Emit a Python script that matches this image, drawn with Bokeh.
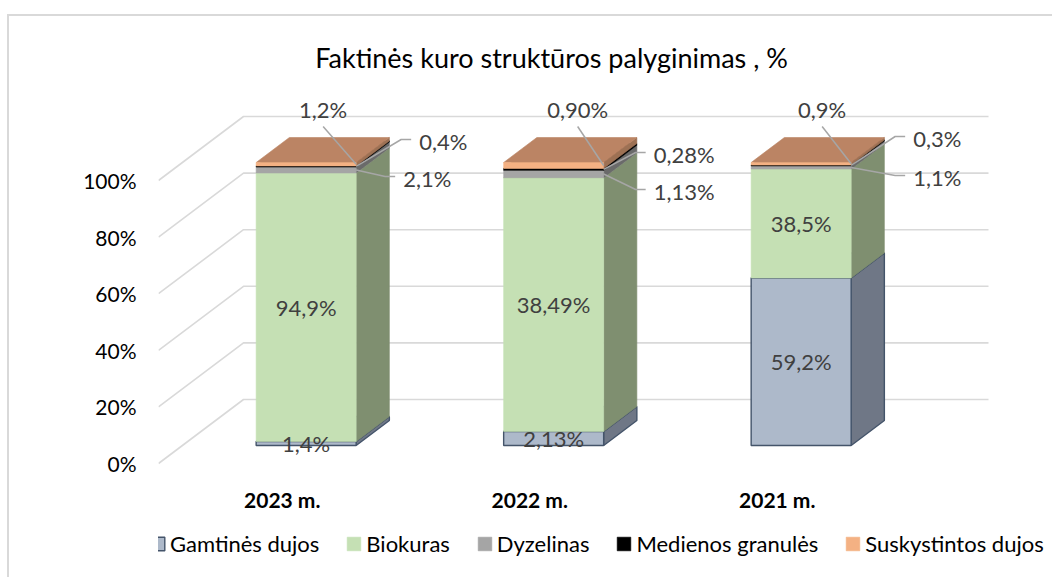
from bokeh.plotting import figure
from bokeh.models import Range1d, FixedTicker, Legend, LegendItem, ColumnDataSource, LinearAxis
from bokeh.core.properties import value
from bokeh.embed import file_html
from bokeh.resources import INLINE

# ---------------- data ----------------
title_text = "Faktinės kuro struktūros palyginimas , %"
categories = ["2023 m.", "2022 m.", "2021 m."]
series_names = ["Gamtinės dujos", "Biokuras", "Dyzelinas", "Medienos granulės", "Suskystintos dujos"]
gamtines_dujos = [1.4, 2.13, 59.2]
biokuras = [94.9, 38.49, 38.5]
dyzelinas = [2.1, 1.13, 1.1]
medienos_granules = [0.4, 0.28, 0.3]
suskystintos_dujos = [1.2, 0.90, 0.9]
label_decimals = [1, 2, 1]
y_ticks = [0, 20, 40, 60, 80, 100]

series_values = [gamtines_dujos, biokuras, dyzelinas, medienos_granules, suskystintos_dujos]

# ---------------- styles ----------------
front_colors = ["#ADB9CA", "#C5E0B4", "#A5A5A5", "#000000", "#F4B183"]
side_colors = ["#6F7786", "#7F8F70", "#6A6A6A", "#000000", "#9D7154"]
top_colors = ["#8E98A6", "#A2B894", "#888888", "#000000", "#BB8464"]
edge_colors = ["#44546A", None, None, None, None]
FONT = "Lato"
GRID_COLOR = "#D9D9D9"
LABEL_COLOR = "#404040"

# ---------------- 3D projection (layout) ----------------
PX = 2.83          # px per percent
Y0 = 463.0         # page y of 0% on front plane
def v_of(py):
    return (Y0 - py) / PX

FLOOR_L = 158.0
BAND = 247.5
BAR_W = 100.0
DX = 85.0
DYP = 64.0 / PX
D0 = 18.0 / 64
D1 = 43.0 / 64
BACK_R = 988.0

def proj(x, v, d):
    return x + d * DX, v + d * DYP

p = figure(width=1045, height=563, output_backend="svg", toolbar_location=None,
           x_range=Range1d(FLOOR_L, 1054), y_range=Range1d(v_of(579), v_of(16)),
           x_axis_type=None, y_axis_type=None,
           min_border_left=149, min_border_right=0, min_border_top=0, min_border_bottom=0)
p.outline_line_color = None
p.background_fill_color = "white"
p.border_fill_color = "white"
p.styles = {"margin-left": "7px", "margin-top": "14px",
            "border-left": "2px solid #D9D9D9", "border-top": "2px solid #D9D9D9"}

# y axis
yax = LinearAxis(ticker=FixedTicker(ticks=y_ticks),
                 major_label_overrides={t: f"{t}%" for t in y_ticks})
yax.axis_line_color = None
yax.major_tick_line_color = None
yax.minor_tick_line_color = None
yax.major_tick_out = 0
yax.major_tick_in = 0
yax.major_label_standoff = 22
yax.major_label_text_font = FONT
yax.major_label_text_font_size = "21px"
yax.major_label_text_color = "#000000"
p.add_layout(yax, "left")

# gridlines: side wall + back wall
gxs, gys = [], []
for t in y_ticks:
    x1, y1 = proj(FLOOR_L, t, 0)
    x2, y2 = proj(FLOOR_L, t, 1)
    gxs.append([x1, x2, BACK_R])
    gys.append([y1, y2, y2])
p.multi_line(xs=gxs, ys=gys, line_color=GRID_COLOR, line_width=1.6)

# normalized stacks (100% stacked)
totals = [sum(s[i] for s in series_values) for i in range(len(categories))]
bottoms = [0.0] * len(categories)
front_renderers = []
seg_info = []
for k, vals in enumerate(series_values):
    fx, fy, sx, sy, tx, ty = [], [], [], [], [], []
    info = []
    for i in range(len(categories)):
        b = bottoms[i]
        t = b + vals[i] / totals[i] * 100.0
        xl = FLOOR_L + BAND * (i + 0.5) - BAR_W / 2
        xr = xl + BAR_W
        pts = [proj(xl, b, D0), proj(xr, b, D0), proj(xr, t, D0), proj(xl, t, D0)]
        fx.append([q[0] for q in pts]); fy.append([q[1] for q in pts])
        pts = [proj(xr, b, D0), proj(xr, b, D1), proj(xr, t, D1), proj(xr, t, D0)]
        sx.append([q[0] for q in pts]); sy.append([q[1] for q in pts])
        pts = [proj(xl, t, D0), proj(xr, t, D0), proj(xr, t, D1), proj(xl, t, D1)]
        tx.append([q[0] for q in pts]); ty.append([q[1] for q in pts])
        info.append((xl, xr, b, t))
        bottoms[i] = t
    seg_info.append(info)
    lc = edge_colors[k]
    lw = 1.4 if lc else 0.6
    p.patches(xs=sx, ys=sy, fill_color=side_colors[k], line_color=lc or side_colors[k], line_width=lw)
    p.patches(xs=tx, ys=ty, fill_color=top_colors[k], line_color=lc or top_colors[k], line_width=lw)
    r = p.patches(xs=fx, ys=fy, fill_color=front_colors[k], line_color=lc or front_colors[k], line_width=lw)
    front_renderers.append(r)

def fmt(v, d):
    return f"{v:.{d}f}".replace(".", ",") + "%"

# inner labels (Gamtinės dujos, Biokuras)
lx, ly, lt = [], [], []
for k in (0, 1):
    for i in range(len(categories)):
        xl, xr, b, t = seg_info[k][i]
        cx, cy = proj((xl + xr) / 2, (b + t) / 2, D0)
        lx.append(cx); ly.append(cy)
        lt.append(fmt(series_values[k][i], label_decimals[i]))
p.text(x=lx, y=ly, text=lt, text_font=value(FONT), text_font_size="22px",
       text_color=LABEL_COLOR, text_align="center", text_baseline="middle")

# outer labels with leader lines (layout offsets in px from bar front-top-right corner)
top_label_dx = [-33, -26, -29]          # Suskystintos dujos: label above
med_elbow = [(45, -23), (32, -10), (44, -26)]   # Medienos granulės
dyz_elbow = [(29, 14), (32, 27), (44, 13)]      # Dyzelinas

ox, oy, ot, oa = [], [], [], []
lxs, lys = [], []
for i in range(len(categories)):
    xl, xr, b, t = seg_info[4][i]
    cx, cy = proj(xr, 100.0, D0)   # corner in data coords
    xl4, xr4, b4, t4 = seg_info[4][i]
    ax, ay = proj(xr4, (b4 + t4) / 2, D0)
    lxs.append([cx + top_label_dx[i], ax]); lys.append([cy + 36 / PX, ay])
    ox.append(cx + top_label_dx[i]); oy.append(cy + 53 / PX); oa.append("center")
    ot.append(fmt(series_values[4][i], label_decimals[i]))
    for k, elbows in ((3, med_elbow), (2, dyz_elbow)):
        xlk, xrk, bk, tk = seg_info[k][i]
        ax, ay = proj(xrk, (bk + tk) / 2, D0)
        ex, ey = elbows[i]
        lxs.append([ax, cx + ex, cx + ex + 10])
        lys.append([ay, cy - ey / PX, cy - ey / PX])
        ox.append(cx + ex + 18); oy.append(cy - (ey + 2) / PX); oa.append("left")
        ot.append(fmt(series_values[k][i], label_decimals[i]))
p.multi_line(xs=lxs, ys=lys, line_color="#A6A6A6", line_width=1.5)
p.text(x=ox, y=oy, text=ot, text_align=oa, text_font=value(FONT), text_font_size="22px",
       text_color=LABEL_COLOR, text_baseline="middle")

# category labels
p.text(x=[FLOOR_L + BAND * (i + 0.5) for i in range(len(categories))],
       y=[v_of(499)] * len(categories), text=categories,
       text_font=value(FONT), text_font_size="21px", text_font_style="bold",
       text_color="#000000", text_align="center", text_baseline="middle")

# title
p.text(x=[551], y=[v_of(57)], text=[title_text], text_font=value(FONT),
       text_font_size="27px", text_color="#000000", text_align="center", text_baseline="middle")

# legend
legend = Legend(items=[LegendItem(label=series_names[k], renderers=[front_renderers[k]])
                       for k in range(len(series_names))],
                orientation="horizontal", location=(-9, 22),
                glyph_width=17, glyph_height=17, label_standoff=4, spacing=26,
                padding=0, margin=0, border_line_color=None, background_fill_alpha=0,
                label_text_font=FONT, label_text_font_size="22px", label_height=26,
                label_text_color="#000000")
p.add_layout(legend)

open("out.html", "w").write(file_html(p, INLINE))
